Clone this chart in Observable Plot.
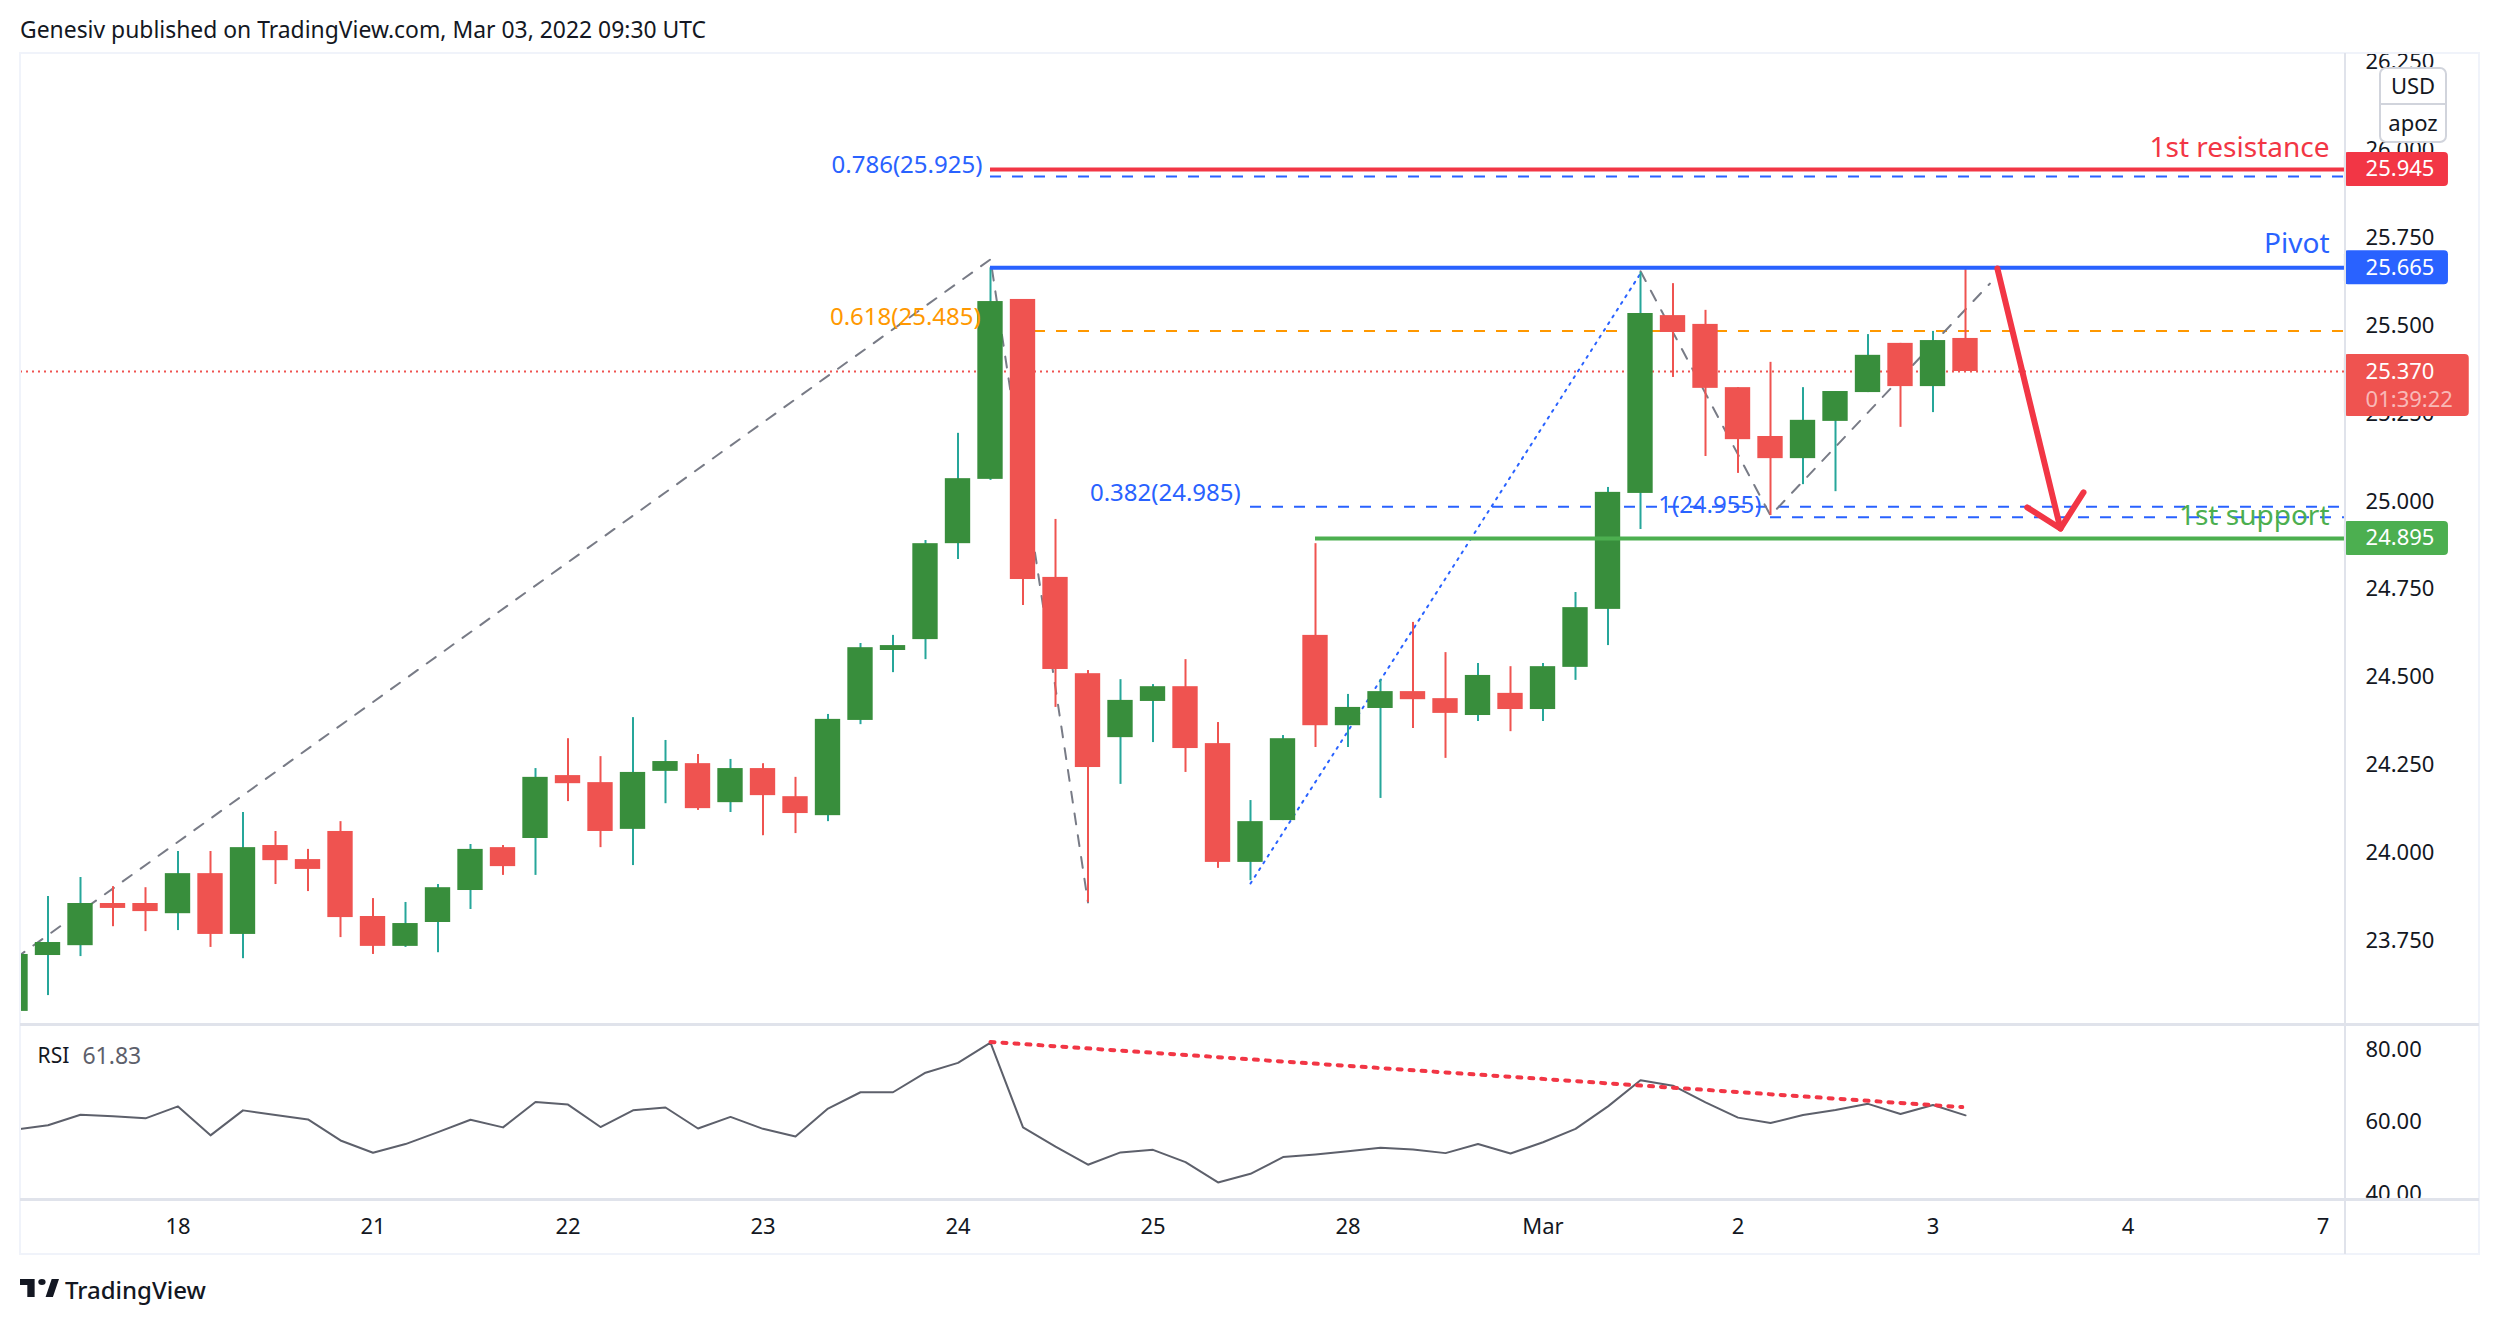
<!DOCTYPE html>
<html>
<head>
<meta charset="utf-8">
<script src="https://cdn.jsdelivr.net/npm/d3@7"></script>
<script src="https://cdn.jsdelivr.net/npm/@observablehq/plot@0.6"></script>
<style>
html,body{margin:0;padding:0;background:#fff;}
#page{position:relative;width:2500px;height:1324px;overflow:hidden;font-family:"Noto Sans",sans-serif;color:#131722;}
#page svg{position:absolute;left:0;max-width:none;background:transparent;}
.line{position:absolute;}
</style>
</head>
<body>
<div id="page"></div>
<script>
// ---- series values, one entry per 4-hour bar ----
const opens = [23.549,23.708,23.736,23.856,23.856,23.827,23.941,23.768,24.021,23.981,24.061,23.819,23.734,23.802,23.893,24.015,24.041,24.220,24.200,24.067,24.232,24.254,24.143,24.240,24.160,24.106,24.377,24.576,24.607,24.880,25.063,25.575,24.784,24.510,24.328,24.431,24.473,24.311,23.973,24.092,24.619,24.362,24.411,24.459,24.439,24.391,24.454,24.408,24.528,24.693,25.023,25.529,25.504,25.324,25.185,25.122,25.228,25.310,25.450,25.327,25.464];
const closes = [23.711,23.745,23.856,23.842,23.833,23.941,23.768,24.015,23.978,23.953,23.816,23.734,23.799,23.901,24.010,23.961,24.215,24.197,24.061,24.229,24.260,24.126,24.240,24.163,24.112,24.380,24.584,24.590,24.880,25.065,25.569,24.778,24.522,24.243,24.434,24.473,24.297,23.973,24.089,24.325,24.362,24.414,24.459,24.436,24.397,24.505,24.408,24.530,24.698,25.026,25.535,25.481,25.322,25.176,25.122,25.231,25.313,25.416,25.327,25.458,25.370];
const highs  = [23.711,23.876,23.930,23.904,23.901,24.004,24.004,24.115,24.061,24.010,24.089,23.870,23.859,23.910,24.024,24.021,24.240,24.325,24.274,24.385,24.320,24.280,24.266,24.254,24.215,24.394,24.596,24.619,24.889,25.194,25.665,25.575,24.949,24.519,24.493,24.479,24.550,24.371,24.149,24.334,24.880,24.451,24.493,24.656,24.570,24.539,24.530,24.539,24.741,25.040,25.652,25.620,25.544,25.324,25.396,25.324,25.313,25.475,25.450,25.484,25.665];
const lows   = [23.549,23.594,23.705,23.790,23.776,23.779,23.731,23.699,23.910,23.890,23.759,23.711,23.731,23.716,23.839,23.936,23.936,24.146,24.015,23.964,24.140,24.121,24.115,24.049,24.055,24.089,24.365,24.513,24.550,24.835,25.060,24.704,24.414,23.859,24.195,24.314,24.229,23.956,23.921,24.092,24.300,24.300,24.155,24.354,24.269,24.374,24.345,24.374,24.491,24.590,24.920,25.353,25.128,25.080,24.960,25.048,25.028,25.310,25.211,25.253,25.370];
const rsiValues = [57.9,59.1,62.0,61.6,61.0,64.3,56.3,63.2,61.9,60.7,54.9,51.5,53.9,57.2,60.6,58.5,65.5,64.8,58.6,63.2,64.0,58.2,61.4,58.1,56.0,63.7,68.2,68.2,73.6,76.3,81.9,58.5,53.2,48.2,51.6,52.3,48.9,43.3,45.7,50.3,51.0,51.9,52.9,52.4,51.4,53.9,51.3,54.4,58.1,64.3,71.5,70.0,65.4,61.2,59.7,61.9,63.3,65.0,62.2,64.7,61.83];

// ---- tick labels ----
const priceTicks = [23.75,24,24.25,24.5,24.75,25,25.25,25.5,25.75,26,26.25];
const rsiTicks = [40,60,80];
const timeTickBars = [5,11,17,23,29,35,41,47,53,59,65,71];
const timeTickLabels = ["18","21","22","23","24","25","28","Mar","2","3","4","7"];

// ---- drawn levels and tools, in bar index and price ----
const resistance = 25.945, pivot = 25.665, support = 24.895, lastPrice = 25.370;
const fibLevels = [
  {from:30, price:25.925, color:"#2962ff"},
  {from:30, price:25.485, color:"#ff9800"},
  {from:38, price:24.985, color:"#2962ff"},
  {from:54, price:24.955, color:"#2962ff"}
];
const zigzagA = [{b:0,p:23.70},{b:30,p:25.689},{b:33,p:23.859}];
const zigzagB = [{b:50,p:25.655},{b:54,p:24.96},{b:60.75,p:25.62}];
const dottedUp = [{b:38,p:23.913},{b:50,p:25.649}];
const arrowShaft = [{b:60.98,p:25.663},{b:62.92,p:24.923}];
const arrowHead = [{b:61.9,p:24.983},{b:62.92,p:24.923},{b:63.63,p:25.026}];
const rsiTrend = [{b:30,v:82.1},{b:59.9,v:64.1}];
const levelNotes = [
  {b:71.2,p:26.007,t:"1st resistance",c:"#f23645"},
  {b:71.2,p:25.734,t:"Pivot",c:"#2962ff"},
  {b:71.2,p:24.96,t:"1st support",c:"#4caf50"}
];
const fibNotes = [
  {b:29.75,p:25.956,t:"0.786(25.925)",c:"#2962ff"},
  {b:29.7,p:25.524,t:"0.618(25.485)",c:"#ff9800"},
  {b:37.7,p:25.023,t:"0.382(24.985)",c:"#2962ff"},
  {b:53.72,p:24.989,t:"1(24.955)",c:"#2962ff"}
];
const priceTags = [
  {p:resistance,c:"#f23645",t:"25.945"},
  {p:pivot,c:"#2962ff",t:"25.665"},
  {p:support,c:"#4caf50",t:"24.895"}
];

const bars = opens.map((o,i)=>({i,o,c:closes[i],h:highs[i],l:lows[i],r:rsiValues[i],up:closes[i]>=o}));

const FONT = '"Noto Sans",sans-serif';
const xDomain = [0.1538, 71.692], axisEnd = 71.66, tagEnd = 74.86, lastTagEnd = 75.5, axisTextBar = 72.31;
const frameOpts = {width:2500, marginLeft:20, marginRight:155, marginTop:0, marginBottom:0,
  style:{fontFamily:FONT, background:"transparent", color:"#131722"}};

const pricePlot = Plot.plot({...frameOpts, height:971,
  x:{domain:xDomain, axis:null},
  y:{domain:[23.5117,26.2749], axis:null},
  marks:[
    Plot.axisY(priceTicks,{anchor:"right", tickSize:0, tickPadding:20, fontSize:22, tickFormat:d3.format(".3f"), label:null, textAnchor:"start"}),
    Plot.ruleY([lastPrice],{x1:0.1538,x2:axisEnd,stroke:"#ef5350",strokeWidth:2,strokeDasharray:"2,4"}),
    Plot.ruleY(fibLevels,{y:"price",x1:"from",x2:axisEnd,stroke:"color",strokeWidth:2,strokeDasharray:"11,11"}),
    Plot.line(zigzagA,{x:"b",y:"p",stroke:"#787b86",strokeWidth:2,strokeDasharray:"11,11",clip:true}),
    Plot.line(zigzagB,{x:"b",y:"p",stroke:"#787b86",strokeWidth:2,strokeDasharray:"11,11"}),
    Plot.line(dottedUp,{x:"b",y:"p",stroke:"#2962ff",strokeWidth:2,strokeDasharray:"2,6"}),
    Plot.ruleX(bars,{x:"i",y1:"l",y2:"h",stroke:d=>d.up?"#26a69a":"#ef5350",strokeWidth:2,clip:true}),
    Plot.rect(bars,{x1:d=>d.i-0.39,x2:d=>d.i+0.39,y1:"o",y2:"c",fill:d=>d.up?"#388e3c":"#ef5350",clip:true}),
    Plot.ruleY([resistance],{x1:30,x2:axisEnd,stroke:"#f23645",strokeWidth:4}),
    Plot.ruleY([pivot],{x1:30,x2:axisEnd,stroke:"#2962ff",strokeWidth:4}),
    Plot.ruleY([support],{x1:40,x2:axisEnd,stroke:"#4caf50",strokeWidth:4}),
    Plot.line(arrowShaft,{x:"b",y:"p",stroke:"#f23645",strokeWidth:6}),
    Plot.line(arrowHead,{x:"b",y:"p",stroke:"#f23645",strokeWidth:6}),
    Plot.text(fibNotes,{x:"b",y:"p",text:"t",fill:"c",textAnchor:"end",fontSize:24}),
    Plot.text(levelNotes,{x:"b",y:"p",text:"t",fill:"c",textAnchor:"end",fontSize:28}),
    Plot.rect(priceTags,{x1:axisEnd,x2:tagEnd,y1:d=>d.p-0.0484,y2:d=>d.p+0.0484,fill:"c",rx:4}),
    Plot.text(priceTags,{x:axisTextBar,y:"p",text:"t",fill:"#fff",textAnchor:"start",fontSize:22}),
    Plot.rect([lastPrice],{x1:axisEnd,x2:lastTagEnd,y1:25.242,y2:25.418,fill:"#ef5350",rx:4}),
    Plot.text([lastPrice],{x:axisTextBar,y:lastPrice,text:d=>d.toFixed(3),fill:"#fff",textAnchor:"start",fontSize:22}),
    Plot.text(["01:39:22"],{x:axisTextBar,y:25.288,text:d=>d,fill:"#fff",fillOpacity:0.6,textAnchor:"start",fontSize:22})
  ]});
pricePlot.style.top = "53px";

const rsiPlot = Plot.plot({...frameOpts, height:175,
  x:{domain:xDomain, axis:null},
  y:{domain:[38.6,86.9], axis:null},
  marks:[
    Plot.axisY(rsiTicks,{anchor:"right", tickSize:0, tickPadding:20, fontSize:22, tickFormat:d3.format(".2f"), label:null, textAnchor:"start"}),
    Plot.line(bars,{x:"i",y:"r",stroke:"#5d606b",strokeWidth:2,clip:true}),
    Plot.line(rsiTrend,{x:"b",y:"v",stroke:"#f23645",strokeWidth:4,strokeDasharray:"4,8"}),
    Plot.text(["RSI"],{x:0.68,y:78,text:d=>d,fill:"#131722",textAnchor:"start",fontSize:21}),
    Plot.text([rsiValues[rsiValues.length-1]],{x:2.06,y:78,text:d=>d.toFixed(2),fill:"#5d606b",textAnchor:"start",fontSize:23})
  ]});
rsiPlot.style.top = "1024px";

const timePlot = Plot.plot({...frameOpts, height:55, marginBottom:54,
  x:{domain:xDomain, axis:null},
  marks:[
    Plot.axisX(timeTickBars,{anchor:"bottom", tickSize:0, tickPadding:18, fontSize:22, label:null,
      tickFormat:d=>timeTickLabels[timeTickBars.indexOf(d)]})
  ]});
timePlot.style.top = "1199px";

const page = document.getElementById("page");
function box(css,html){const d=document.createElement("div");d.className="line";d.style.cssText=css;if(html)d.innerHTML=html;page.appendChild(d);return d;}

page.append(pricePlot,rsiPlot,timePlot);

// frame and pane separators
box("left:20px;top:52px;width:2459px;height:2px;background:#f0f3fa");
box("left:19px;top:52px;width:2px;height:1203px;background:#f0f3fa");
box("left:2478px;top:52px;width:2px;height:1203px;background:#f0f3fa");
box("left:20px;top:1253px;width:2460px;height:2px;background:#f0f3fa");
box("left:2344px;top:53px;width:2px;height:1201px;background:#e0e3eb");
box("left:20px;top:1023px;width:2459px;height:3px;background:#e0e3eb");
box("left:20px;top:1198px;width:2459px;height:3px;background:#e0e3eb");

// header, footer, currency box
box('left:20px;top:14px;font-size:22.9px;line-height:32px;color:#131722;white-space:nowrap','Genesiv published on TradingView.com, Mar 03, 2022 09:30 UTC');
box('left:2379px;top:67px;width:64px;height:72px;border:2px solid #d1d4dc;border-radius:7px;background:#fff;font-size:22px;text-align:center;line-height:34px','<div style="height:34px;line-height:32px;border-bottom:2px solid #d1d4dc">USD</div><div>apoz</div>');
box('left:20px;top:1279px;width:39px;height:18px','<svg style="position:static" width="39" height="18" viewBox="2 3 32 18" preserveAspectRatio="none"><path fill="#131722" d="M14 3H2v6h6v12h6V3zm15 18h-6l5-18h6l-5 18z"/><circle cx="20" cy="6" r="3" fill="#131722"/></svg>');
box('left:65px;top:1272px;font-size:24px;line-height:36px;font-weight:500;color:#131722;white-space:nowrap','TradingView');
</script>
</body>
</html>
